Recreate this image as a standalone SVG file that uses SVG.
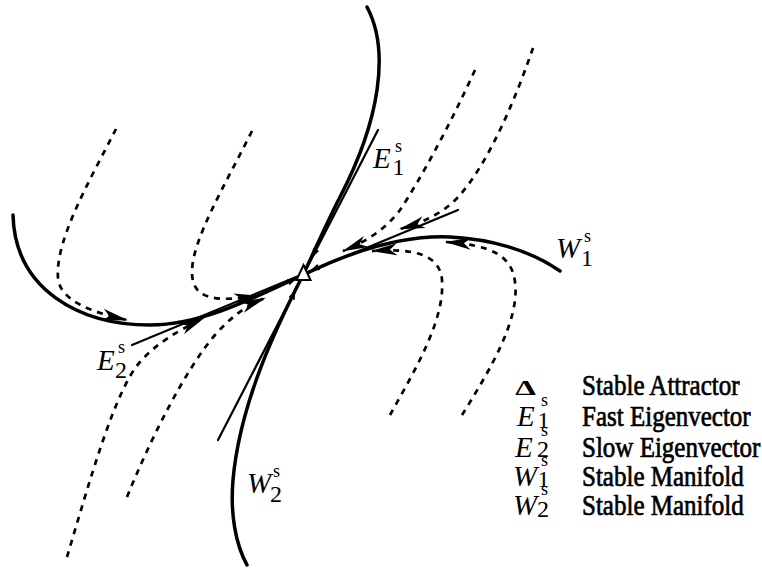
<svg xmlns="http://www.w3.org/2000/svg" width="762" height="578" viewBox="0 0 762 578">
<defs>
<style>
.man{fill:none;stroke:#000;stroke-width:3.5;stroke-linecap:round}
.eig{fill:none;stroke:#000;stroke-width:2.2;stroke-linecap:round}
.traj{fill:none;stroke:#000;stroke-width:2.7;stroke-dasharray:6 6;marker-end:url(#arr)}
.ah{fill:#000}
.it{font-family:"Liberation Serif","Times New Roman",serif;font-style:italic;font-size:29px;fill:#000}
.sup{font-style:normal;font-size:18px}
.sub{font-style:normal;font-size:24px}
.leg{font-family:"Liberation Serif","Times New Roman",serif;font-size:25px;fill:#000;stroke:#000;stroke-width:0.6}
</style>
<marker id="arr" viewBox="0 0 26 13" refX="25" refY="6.5" markerWidth="26" markerHeight="13" markerUnits="userSpaceOnUse" orient="auto">
<path d="M0,0.5 L26,6.5 L0,12.5 L7,6.5 Z" fill="#000"/>
</marker>
</defs>
<rect width="762" height="578" fill="#fff"/>
<g id="connectors">
<path id="W1" class="man" d="M13,215 C15,290 80,325 150,325 C200,325 250,300 303,275 C350,252 400,235 450,237 C490,239 530,250 560,271"/>
<path id="W2" class="man" d="M367,7 C390,50 380,120 340,197 C328,220 315,250 303,275 C280,320 240,400 233,480 C230,515 236,545 247,565"/>
<path id="E1" class="eig" d="M378,130 L218,440"/>
<path id="E2" class="eig" d="M132,345 L458,210"/>
<path id="trajA" class="traj" d="M116,129 C90,180 55,240 58,278 C60,300 90,312 127,320"/>
<path id="trajB" class="traj" d="M252,131 C225,185 192,240 192,272 C192,300 215,302 259,296"/>
<path id="trajC" class="traj" d="M67,557 C90,480 115,390 140,362 C155,345 175,332 204,318"/>
<path id="trajD" class="traj" d="M127,497 C150,440 185,370 215,335 C230,318 245,306 265,298"/>
<path id="trajE" class="traj" d="M475,70 C450,125 420,180 400,210 C385,230 365,242 343,251"/>
<path id="trajF" class="traj" d="M533,48 C515,100 490,160 460,195 C445,212 425,222 400,229"/>
<path id="trajG" class="traj" d="M390,415 C415,370 445,320 442,280 C440,255 415,248 372,251"/>
<path id="trajH" class="traj" d="M462,415 C490,370 520,320 515,282 C512,255 490,245 446,242"/>
<polygon class="ah" points="297,278 289.6,285.2 287.0,279.2"/>
<polygon class="ah" points="295.5,290 294.6,300.2 288.6,297.1"/>
<polygon class="ah" points="311.8,258 319.1,250.9 313.1,247.8"/>
<polygon class="ah" points="310,271 320.2,269.9 317.3,264.0"/>
</g>
<g id="attractor">
<polygon points="303.5,265 310.5,280 296.5,280" fill="#fff" stroke="#000" stroke-width="2"/>
</g>
<g id="label-E1">
<text class="it" x="373" y="168">E<tspan class="sup" x="395" y="152">s</tspan><tspan class="sub" x="392.5" y="175">1</tspan></text>
</g>
<g id="label-E2">
<text class="it" x="97" y="370">E<tspan class="sup" x="118" y="353">s</tspan><tspan class="sub" x="115" y="378">2</tspan></text>
</g>
<g id="label-W1">
<text class="it" x="556" y="258">W<tspan class="sup" x="584" y="242">s</tspan><tspan class="sub" x="581" y="266">1</tspan></text>
</g>
<g id="label-W2">
<text class="it" x="247" y="493">W<tspan class="sup" x="273" y="477">s</tspan><tspan class="sub" x="270" y="502">2</tspan></text>
</g>
<g id="legend">
<text font-family="Liberation Serif, serif" font-size="20" font-weight="bold" text-anchor="middle" transform="translate(525.5,394.5) scale(1.65,1)">Δ</text>
<text class="leg" transform="translate(582,395) scale(1,1.2)">Stable Attractor</text>
<text class="it" x="517" y="426">E<tspan class="sup" x="541" y="406">s</tspan><tspan class="sub" x="537.5" y="428">1</tspan></text>
<text class="leg" transform="translate(582,426) scale(1,1.2)">Fast Eigenvector</text>
<text class="it" x="515" y="457">E<tspan class="sup" x="541" y="436">s</tspan><tspan class="sub" x="537" y="457">2</tspan></text>
<text class="leg" transform="translate(582,457) scale(1,1.2)">Slow Eigenvector</text>
<text class="it" x="513" y="486">W<tspan class="sup" x="541" y="466">s</tspan><tspan class="sub" x="537.5" y="487">1</tspan></text>
<text class="leg" transform="translate(582,486) scale(1,1.2)">Stable Manifold</text>
<text class="it" x="513" y="515">W<tspan class="sup" x="541" y="495">s</tspan><tspan class="sub" x="537" y="517">2</tspan></text>
<text class="leg" transform="translate(582,515) scale(1,1.2)">Stable Manifold</text>
</g>
</svg>
